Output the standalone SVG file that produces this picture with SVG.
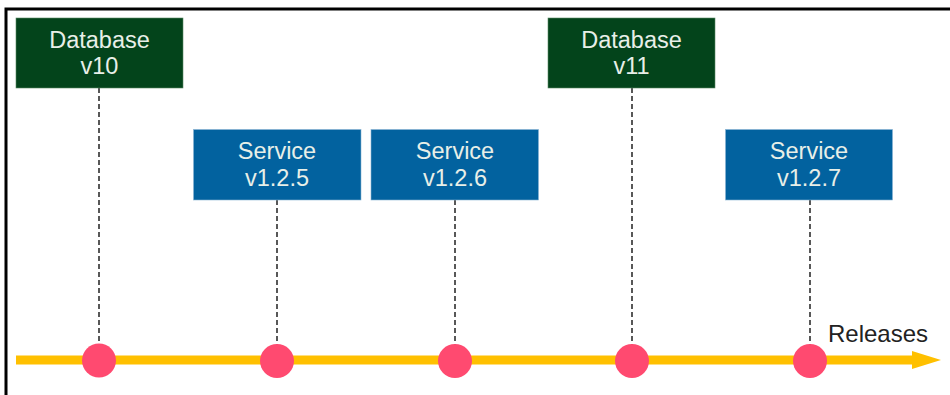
<svg xmlns="http://www.w3.org/2000/svg" width="950" height="395" viewBox="0 0 950 395">
<style>
.db{fill:#03441b;stroke:#5a8a66;stroke-width:0.6}
.svc{fill:#02629f;stroke:#8ab4d4;stroke-width:0.6}
.lbl{font-family:"Liberation Sans",Arial,sans-serif;font-size:23.5px;fill:#e8efe8;text-anchor:middle}
.dash{stroke:#222;stroke-width:1.5;stroke-dasharray:5,3;fill:none}
.dot{fill:#ff4a70}
</style>
<rect x="0" y="0" width="950" height="395" fill="#fff"/>
<path d="M6,395 V9 H950" fill="none" stroke="#000" stroke-width="3"/>
<g id="connectors">
<line class="dash" x1="99" y1="88" x2="99" y2="345"/>
<line class="dash" x1="277" y1="200" x2="277" y2="345"/>
<line class="dash" x1="455" y1="200" x2="455" y2="345"/>
<line class="dash" x1="632" y1="88" x2="632" y2="345"/>
<line class="dash" x1="810" y1="200" x2="810" y2="345"/>
</g>
<g id="timeline">
<rect x="16" y="355.5" width="899" height="9" fill="#ffc000"/>
<polygon points="912,351 941,360 912,369" fill="#ffc000"/>
<text x="878" y="342" font-family="'Liberation Sans',Arial,sans-serif" font-size="24" fill="#222" text-anchor="middle">Releases</text>
</g>
<g id="db10"><rect class="db" x="16" y="18" width="167" height="70"/><text class="lbl" x="99.5" y="48">Database</text><text class="lbl" x="99.5" y="74">v10</text></g>
<g id="svc125"><rect class="svc" x="193.5" y="129.5" width="167.5" height="70.5"/><text class="lbl" x="277" y="159">Service</text><text class="lbl" x="277" y="186">v1.2.5</text></g>
<g id="svc126"><rect class="svc" x="371" y="129.5" width="167.5" height="70.5"/><text class="lbl" x="455" y="159">Service</text><text class="lbl" x="455" y="186">v1.2.6</text></g>
<g id="db11"><rect class="db" x="548" y="18" width="167" height="70"/><text class="lbl" x="631.5" y="48">Database</text><text class="lbl" x="631.5" y="74">v11</text></g>
<g id="svc127"><rect class="svc" x="725.5" y="129.5" width="167" height="70.5"/><text class="lbl" x="809" y="159">Service</text><text class="lbl" x="809" y="186">v1.2.7</text></g>
<g id="dots">
<circle class="dot" cx="99" cy="360.5" r="17"/>
<circle class="dot" cx="277" cy="361" r="17"/>
<circle class="dot" cx="455" cy="361" r="17"/>
<circle class="dot" cx="632" cy="361" r="17"/>
<circle class="dot" cx="810" cy="361" r="17"/>
</g>
</svg>
